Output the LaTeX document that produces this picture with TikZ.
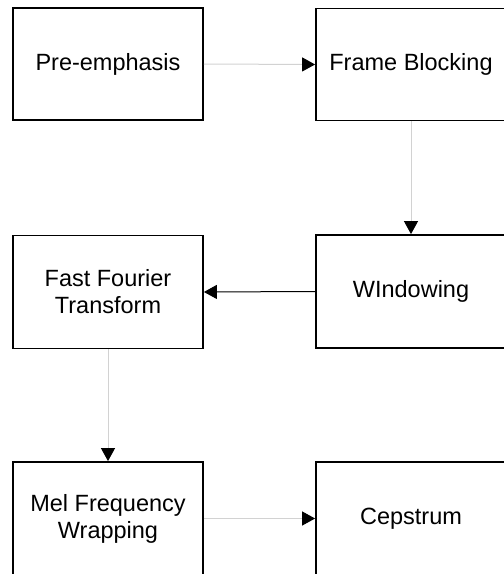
\documentclass[tikz,border=0pt]{standalone}
\usepackage{fontspec}
\setmainfont{Liberation Sans}
\usetikzlibrary{arrows.meta}
\begin{document}
\begin{tikzpicture}[x=1pt,y=-1pt,
  blockbox/.style={draw=black,line width=1.8pt,fill=white,minimum width=190pt,minimum height=112pt,inner sep=0pt,align=center,font=\fontsize{23.5}{27}\selectfont},
  tip/.style={-{Triangle[color=black,length=13pt,width=14pt]}},
  grayline/.style={draw=gray!35,line width=1pt,tip},
  blackline/.style={draw=black,line width=1pt,tip}]
\clip (0,0) rectangle (504,574);
\node[blockbox] (pre) at (108,64) {Pre-emphasis};
\node[blockbox] (frame) at (411,64.5) {Frame Blocking};
\node[blockbox,minimum height=113pt] (win) at (411,291.5) {WIndowing};
\node[blockbox,minimum height=113pt] (fft) at (108,292) {Fast Fourier\\Transform};
\node[blockbox,minimum height=113pt] (mel) at (108,518.5) {Mel Frequency\\Wrapping};
\node[blockbox,minimum height=113pt] (cep) at (411,518.5) {Cepstrum};
\draw[grayline] (pre.east) -- (frame.west);
\draw[grayline] (frame.south) -- (win.north);
\draw[blackline] (win.west) -- (fft.east);
\draw[grayline] (fft.south) -- (mel.north);
\draw[grayline] (mel.east) -- (cep.west);
\end{tikzpicture}
\end{document}
